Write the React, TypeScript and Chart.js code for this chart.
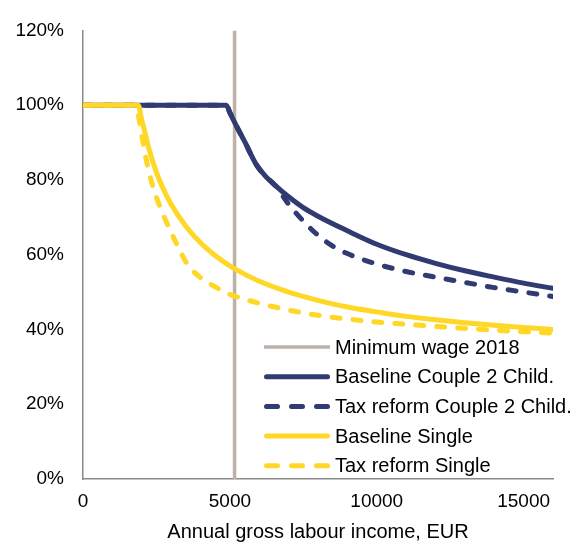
import React, { useEffect, useRef } from 'react';
import { Chart, registerables } from 'chart.js';

Chart.register(...registerables);

// ---- data ----
const xTitle = 'Annual gross labour income, EUR';
const xTickValues = [0, 5000, 10000, 15000];
const yTickValues = [0, 20, 40, 60, 80, 100, 120];
const xMax = 16000;
const yMax = 120;

const minWageLabel = 'Minimum wage 2018';
const minWageX = [5160, 5160];
const minWageY = [0, 120];

const coupleBaseLabel = 'Baseline Couple 2 Child.';
const coupleBaseX = [0, 4880, 5000, 5200, 5500, 5900, 6200, 6550, 7000, 7500, 8000, 9000, 10000, 11000, 12000, 13000, 14000, 15000, 16000];
const coupleBaseY = [100, 100, 98, 94.8, 90.3, 84.1, 81.1, 78.5, 75.5, 72.6, 70.3, 66.4, 62.8, 60, 57.7, 55.7, 54, 52.4, 51];

const coupleReformLabel = 'Tax reform Couple 2 Child.';
const coupleReformX = [0, 4880, 5000, 5200, 5500, 5900, 6200, 6550, 7000, 7500, 8000, 8500, 9000, 10000, 11000, 12000, 13000, 14000, 15000, 16000];
const coupleReformY = [100, 100, 98, 94.8, 90.3, 84.1, 81.1, 78.5, 73.5, 69, 65.2, 62.3, 60.3, 57.5, 55.5, 54, 52.6, 51.2, 50, 48.8];

const singleBaseLabel = 'Baseline Single';
const singleBaseX = [0, 1880, 2000, 2100, 2250, 2500, 2750, 3000, 3500, 4000, 4500, 5000, 5500, 6000, 7000, 8000, 9000, 10000, 11000, 12000, 13000, 14000, 15000, 16000];
const singleBaseY = [100, 100, 96, 93, 88.2, 82, 77.3, 73.5, 67.6, 63.2, 59.8, 57, 54.8, 52.9, 50, 47.8, 46, 44.7, 43.5, 42.6, 41.8, 41.1, 40.5, 40];

const singleReformLabel = 'Tax reform Single';
const singleReformX = [0, 1750, 1850, 2000, 2125, 2250, 2375, 2500, 2750, 3000, 3250, 3500, 3750, 4000, 4500, 5000, 5500, 6000, 7000, 8000, 9000, 10000, 11000, 12000, 13000, 14000, 15000, 16000];
const singleReformY = [100, 100, 98.5, 92, 86.5, 82, 78.3, 75.3, 70.4, 66, 61.9, 58.1, 55.6, 53.9, 51.4, 49.4, 48.1, 47, 45.2, 43.8, 42.8, 42, 41.4, 40.8, 40.3, 39.8, 39.4, 39];

// ---- styles ----
const NAVY = '#313B72';
const YELLOW = '#FFD726';
const GREY = '#BDB1AA';
const AXIS = '#8A8A8A';
const FONT = "'Liberation Sans', Arial, Helvetica, sans-serif";

const pts = (xs: number[], ys: number[]) => xs.map((x, i) => ({ x, y: ys[i] }));

const insideLegend = {
  id: 'insideLegend',
  afterDatasetsDraw(chart: any) {
    const { ctx, chartArea } = chart;
    const x0 = chartArea.left + 181;
    const sampleW = 66;
    const y0 = chartArea.bottom - 132;
    const rowH = 29.7;
    ctx.save();
    chart.data.datasets.forEach((ds: any, i: number) => {
      const y = y0 + i * rowH;
      ctx.beginPath();
      ctx.strokeStyle = ds.borderColor;
      ctx.lineWidth = ds.legendWidth ?? ds.borderWidth;
      ctx.setLineDash(ds.legendDash || []);
      ctx.lineCap = ds.borderCapStyle || 'butt';
      const pad = ds.borderCapStyle === 'round' ? ctx.lineWidth / 2 : 0;
      ctx.moveTo(x0 + pad, y);
      ctx.lineTo(x0 + sampleW - pad, y);
      ctx.stroke();
      ctx.setLineDash([]);
      ctx.fillStyle = '#000';
      ctx.font = `20px ${FONT}`;
      ctx.textBaseline = 'middle';
      ctx.textAlign = 'left';
      ctx.fillText(ds.label, x0 + sampleW + 5, y + 1);
    });
    ctx.restore();
  },
};

const lineDs = (label: string, xs: number[], ys: number[], color: string, dashed: boolean, order: number) => ({
  label,
  data: pts(xs, ys),
  borderColor: color,
  backgroundColor: color,
  borderWidth: 5,
  borderDash: dashed ? [8, 13] : [],
  legendDash: dashed ? [11, 14] : [],
  borderCapStyle: 'round',
  borderJoinStyle: 'round',
  cubicInterpolationMode: 'monotone',
  pointRadius: 0,
  order,
});

export default function App() {
  const ref = useRef<HTMLCanvasElement | null>(null);

  useEffect(() => {
    if (!ref.current) return;
    Chart.defaults.font.family = FONT;
    Chart.defaults.font.size = 19;
    Chart.defaults.color = '#000';

    const chart = new Chart(ref.current, {
      type: 'line',
      data: {
        datasets: [
          {
            label: minWageLabel,
            data: pts(minWageX, minWageY),
            borderColor: GREY,
            backgroundColor: GREY,
            borderWidth: 3.5,
            legendWidth: 3.5,
            pointRadius: 0,
            order: 10,
          } as any,
          lineDs(coupleBaseLabel, coupleBaseX, coupleBaseY, NAVY, false, 4) as any,
          lineDs(coupleReformLabel, coupleReformX, coupleReformY, NAVY, true, 3) as any,
          lineDs(singleBaseLabel, singleBaseX, singleBaseY, YELLOW, false, 2) as any,
          lineDs(singleReformLabel, singleReformX, singleReformY, YELLOW, true, 1) as any,
        ],
      },
      options: {
        animation: false,
        responsive: false,
        layout: { padding: { left: 0, right: 28, top: 22, bottom: 0 } },
        plugins: {
          legend: { display: false },
          tooltip: { enabled: false },
        },
        scales: {
          x: {
            type: 'linear',
            min: 0,
            max: xMax,
            grid: { display: true, drawOnChartArea: false, drawTicks: false },
            border: { display: true, color: AXIS, width: 1.5 },
            afterBuildTicks: (s: any) => { s.ticks = xTickValues.map((v) => ({ value: v })); },
            ticks: { padding: 11, maxRotation: 0, autoSkip: false, color: '#000', font: { size: 19 }, callback: (v: any) => String(v) },
            title: { display: true, text: xTitle, color: '#000', font: { size: 20, lineHeight: 1 }, padding: { top: 0, bottom: 0 } },
            afterFit: (s: any) => { s.height = 63; },
          },
          y: {
            type: 'linear',
            min: 0,
            max: yMax,
            grid: { display: true, drawOnChartArea: false, drawTicks: false },
            border: { display: true, color: AXIS, width: 1.5 },
            afterBuildTicks: (s: any) => { s.ticks = yTickValues.map((v) => ({ value: v })); },
            ticks: { padding: 19, autoSkip: false, color: '#000', font: { size: 19 }, callback: (v: any) => `${v}%` },
            afterFit: (s: any) => { s.width = 83; },
          },
        },
      } as any,
      plugins: [insideLegend],
    });
    return () => chart.destroy();
  }, []);

  return (
    <div style={{ position: 'absolute', left: 0, top: 0, width: 581, height: 542, background: '#fff' }}>
      <canvas ref={ref} width={581} height={542} style={{ display: 'block' }} />
    </div>
  );
}
